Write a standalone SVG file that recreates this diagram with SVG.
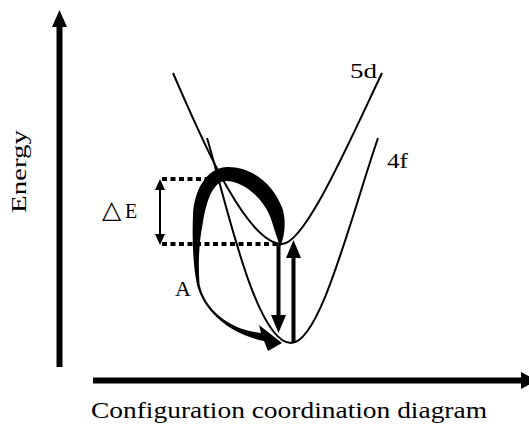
<svg xmlns="http://www.w3.org/2000/svg" width="529" height="427" viewBox="0 0 529 427">
<style>
.curve{fill:none;stroke:#000;stroke-width:2}
.dash{fill:none;stroke:#000;stroke-width:4;stroke-dasharray:5 3.5}
.lbl{font-family:"Liberation Serif","Times New Roman","DejaVu Serif",serif;fill:#000}
.ax{stroke:#000;stroke-width:6;fill:none}
</style>
<rect width="529" height="427" fill="#fff"/>
<g id="axes">
<line class="ax" x1="59.5" y1="367" x2="59.5" y2="25"/>
<polygon points="52,27 67,27 59.5,10" fill="#000"/>
<line class="ax" x1="93" y1="380.5" x2="523" y2="380.5"/>
<polygon points="521,372 521,389 537,380.5" fill="#000"/>
</g>
<g id="curve-5d">
<path class="curve" d="M173,73 C198,130 245,244 282,244 C305,244 350,140 382,73"/>
</g>
<g id="curve-4f">
<path class="curve" d="M207,138 C224,193 255,343 291,343 C320,343 350,220 378,138"/>
</g>
<g id="connectors">
<line class="dash" x1="162" y1="179" x2="208" y2="179"/>
<line class="dash" x1="162" y1="244" x2="277" y2="244"/>
<line x1="160" y1="189" x2="160" y2="235" stroke="#000" stroke-width="2"/>
<polygon points="155,190 165,190 160,179" fill="#000"/>
<polygon points="155,234 165,234 160,245" fill="#000"/>
<line x1="278.5" y1="244" x2="278.5" y2="317" stroke="#000" stroke-width="4"/>
<polygon points="271,315 286,315 278.5,333" fill="#000"/>
<line x1="293.5" y1="343" x2="293.5" y2="256" stroke="#000" stroke-width="4"/>
<polygon points="286,258 301,258 293.5,240" fill="#000"/>
<path id="loop-arrow" fill="#000" d="M280,247 C285,236 286,222 283,210 C274,184 252,167 228,167 C207,167 194,190 193,215 C192,240 193,265 197,285 C204,312 230,334 264,341 L268,351 L282,343 L259,325 L261,333 C231,330 205,311 199.5,284 C198,262 199,242 203,222 C207,198 214,181 226,181 C244,181 266,200 272,222 C275,232 278,240 280,247 Z"/>
</g>
<g id="labels">
<text class="lbl" x="350" y="78" font-size="22" textLength="27" lengthAdjust="spacingAndGlyphs">5d</text>
<text class="lbl" x="387" y="168" font-size="22" textLength="21" lengthAdjust="spacingAndGlyphs">4f</text>
<text class="lbl" font-size="20"><tspan x="102" y="218" font-family="DejaVu Sans, sans-serif" font-size="25">△</tspan><tspan x="125" y="218">E</tspan></text>
<text class="lbl" x="175" y="296" font-size="22">A</text>
<text class="lbl" font-size="20" transform="translate(25.5,213) rotate(-90)" textLength="83" lengthAdjust="spacingAndGlyphs">Energy</text>
<text class="lbl" x="91" y="418" font-size="23" textLength="396" lengthAdjust="spacingAndGlyphs">Configuration coordination diagram</text>
</g>
</svg>
